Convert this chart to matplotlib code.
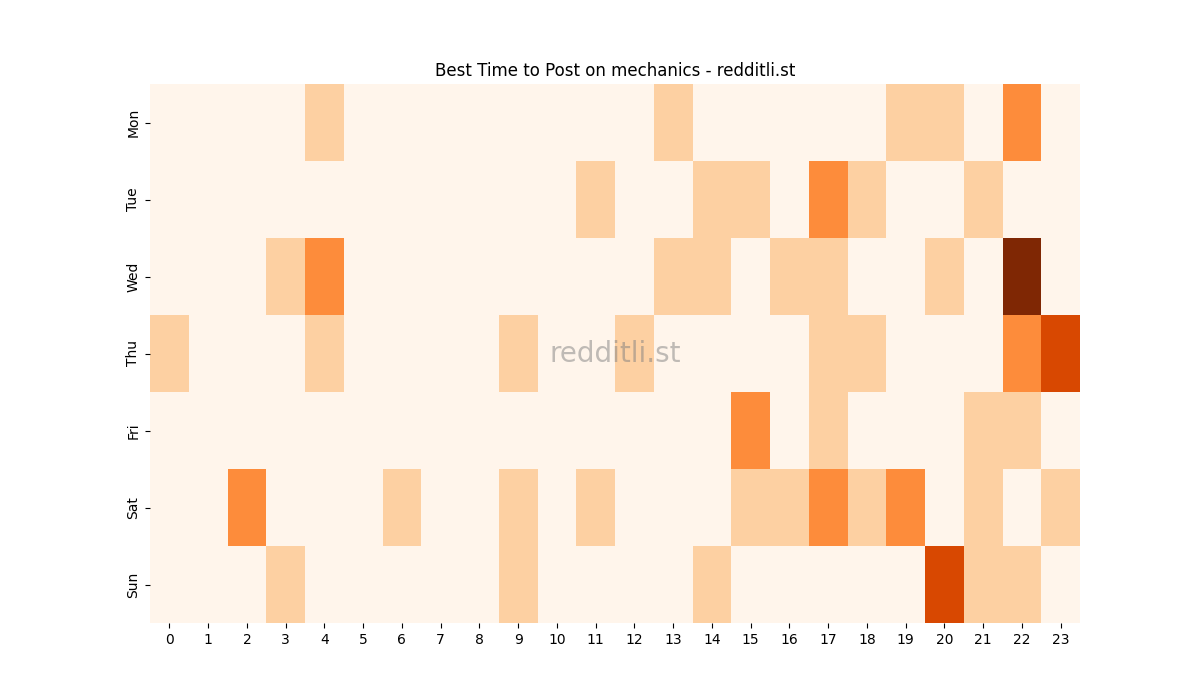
import matplotlib
matplotlib.use("Agg")
import matplotlib.pyplot as plt
import seaborn as sns
import numpy as np

days = ["Mon", "Tue", "Wed", "Thu", "Fri", "Sat", "Sun"]
hours = list(range(24))
mon = {4: 1, 13: 1, 19: 1, 20: 1, 22: 2}
tue = {11: 1, 14: 1, 15: 1, 17: 2, 18: 1, 21: 1}
wed = {3: 1, 4: 2, 13: 1, 14: 1, 16: 1, 17: 1, 20: 1, 22: 4}
thu = {0: 1, 4: 1, 9: 1, 12: 1, 17: 1, 18: 1, 22: 2, 23: 3}
fri = {15: 2, 17: 1, 21: 1, 22: 1}
sat = {2: 2, 6: 1, 9: 1, 11: 1, 15: 1, 16: 1, 17: 2, 18: 1, 19: 2, 21: 1, 23: 1}
sun = {3: 1, 9: 1, 14: 1, 20: 3, 21: 1, 22: 1}

rows = [mon, tue, wed, thu, fri, sat, sun]
data = np.array([[r.get(h, 0) for h in hours] for r in rows])

fig, ax = plt.subplots(figsize=(12, 7), dpi=100)
sns.heatmap(data, cmap="Oranges", vmin=0, vmax=4, cbar=False, ax=ax,
            xticklabels=hours, yticklabels=days)
ax.set_title("Best Time to Post on mechanics - redditli.st")
ax.text(0.5, 0.5, "redditli.st", transform=ax.transAxes, ha="center", va="center",
        fontsize=20, color="grey", alpha=0.5)
fig.savefig("out.png")
